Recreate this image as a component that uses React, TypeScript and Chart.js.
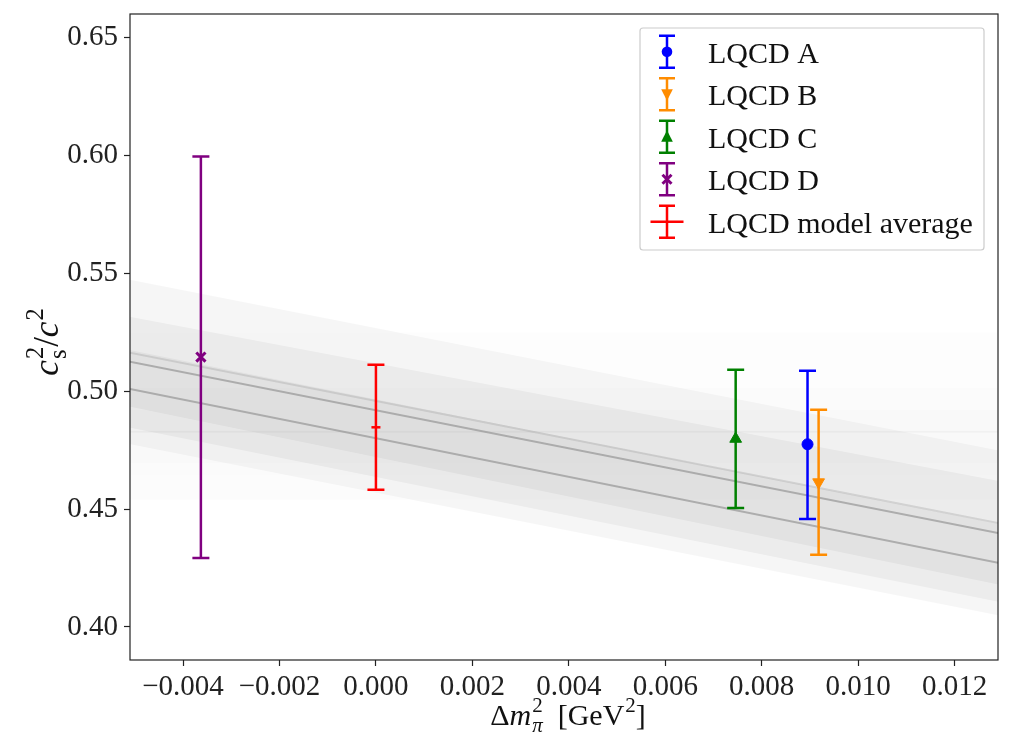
import React, { useEffect, useRef } from "react";
import { Chart, registerables } from "chart.js";

Chart.register(...registerables);

const FONT = '"Liberation Serif", "Times New Roman", serif';

// ---- axes ----
const xMin = -0.0051;
const xMax = 0.0129;
const yMin = 0.386;
const yMax = 0.66;
const xTicks = [-0.004, -0.002, 0.0, 0.002, 0.004, 0.006, 0.008, 0.01, 0.012];
const yTicks = [0.4, 0.45, 0.5, 0.55, 0.6, 0.65];

// ---- measurements ----
const seriesNames = ["LQCD A", "LQCD B", "LQCD C", "LQCD D", "LQCD model average"];
const seriesX = [0.00895, 0.00918, 0.00746, -0.00363, 0.0];
const seriesY = [0.4775, 0.4614, 0.4798, 0.5145, 0.4847];
const seriesLow = [0.4458, 0.4306, 0.4505, 0.4293, 0.4582];
const seriesHigh = [0.5087, 0.4921, 0.5091, 0.5996, 0.5112];
const seriesColors = ["#0000ff", "#ff8c00", "#008000", "#800080", "#ff0000"];
const seriesMarkers = ["circle", "triangleDown", "triangle", "crossRot", "line"];

// ---- linear fits (values at the two ends of fitX) ----
const fitX = [-0.0051, 0.0129];
const fitLineA = [0.5125, 0.4399];
const fitLineB = [0.5163, 0.4441];
const fitLineC = [0.501, 0.4272];
const bandWideUpper = [0.5473, 0.475];
const bandWideLower = [0.4775, 0.405];
const bandMidUpper = [0.5316, 0.462];
const bandMidLower = [0.4934, 0.418];
const bandLowUpper = [0.5175, 0.4437];
const bandLowLower = [0.4845, 0.4107];

// ---- constant fits ----
const constBandOuter = [0.5015, 0.454];
const constBandInner = [0.492, 0.4696];
const constBandFaint = [0.525, 0.4645];
const constLine = 0.4828;

const pts = (ys: number[]) => fitX.map((x, i) => ({ x, y: ys[i] }));
const flat = (v: number) => fitX.map((x) => ({ x, y: v }));

type Seg = { t?: string; it?: boolean; sup?: string; sub?: string; subIt?: boolean };

function segWidth(ctx: CanvasRenderingContext2D, s: Seg, size: number) {
  if (s.t !== undefined) {
    ctx.font = `${s.it ? "italic " : ""}${size}px ${FONT}`;
    return ctx.measureText(s.t).width;
  }
  const small = size * 0.7;
  let w1 = 0, w2 = 0;
  if (s.sup) { ctx.font = `${small}px ${FONT}`; w1 = ctx.measureText(s.sup).width; }
  if (s.sub) { ctx.font = `${s.subIt ? "italic " : ""}${small}px ${FONT}`; w2 = ctx.measureText(s.sub).width; }
  return Math.max(w1, w2) + 1;
}

function drawRich(ctx: CanvasRenderingContext2D, segs: Seg[], cx: number, base: number, size: number) {
  let total = 0;
  for (const s of segs) total += segWidth(ctx, s, size);
  let x = cx - total / 2;
  ctx.textAlign = "left";
  ctx.textBaseline = "alphabetic";
  for (const s of segs) {
    const w = segWidth(ctx, s, size);
    if (s.t !== undefined) {
      ctx.font = `${s.it ? "italic " : ""}${size}px ${FONT}`;
      ctx.fillText(s.t, x, base);
    } else {
      const small = size * 0.7;
      if (s.sup) { ctx.font = `${small}px ${FONT}`; ctx.fillText(s.sup, x + 1, base - size * 0.42); }
      if (s.sub) { ctx.font = `${s.subIt ? "italic " : ""}${small}px ${FONT}`; ctx.fillText(s.sub, x + 1, base + size * 0.24); }
    }
    x += w;
  }
}

function drawMarker(ctx: CanvasRenderingContext2D, kind: string, x: number, y: number, color: string) {
  ctx.save();
  ctx.fillStyle = color;
  ctx.strokeStyle = color;
  ctx.beginPath();
  if (kind === "circle") {
    ctx.arc(x, y, 5.3, 0, Math.PI * 2);
    ctx.fill();
  } else if (kind === "triangleDown") {
    ctx.moveTo(x - 5.8, y - 5);
    ctx.lineTo(x + 5.8, y - 5);
    ctx.lineTo(x, y + 6.5);
    ctx.closePath();
    ctx.fill();
  } else if (kind === "triangle") {
    ctx.moveTo(x - 5.8, y + 5);
    ctx.lineTo(x + 5.8, y + 5);
    ctx.lineTo(x, y - 6.5);
    ctx.closePath();
    ctx.fill();
  } else if (kind === "crossRot") {
    ctx.lineWidth = 3;
    ctx.moveTo(x - 4.5, y - 4.5);
    ctx.lineTo(x + 4.5, y + 4.5);
    ctx.moveTo(x - 4.5, y + 4.5);
    ctx.lineTo(x + 4.5, y - 4.5);
    ctx.stroke();
  } else if (kind === "line") {
    ctx.lineWidth = 2.5;
    ctx.moveTo(x - 16.5, y);
    ctx.lineTo(x + 16.5, y);
    ctx.stroke();
  }
  ctx.restore();
}

function drawErrorBar(ctx: CanvasRenderingContext2D, px: number, pl: number, ph: number, color: string, cap: number) {
  ctx.save();
  ctx.strokeStyle = color;
  ctx.lineWidth = 2.5;
  ctx.beginPath();
  ctx.moveTo(px, pl);
  ctx.lineTo(px, ph);
  ctx.moveTo(px - cap, pl);
  ctx.lineTo(px + cap, pl);
  ctx.moveTo(px - cap, ph);
  ctx.lineTo(px + cap, ph);
  ctx.stroke();
  ctx.restore();
}

const errorBarPlugin = {
  id: "errorBars",
  beforeDatasetDraw(chart: any, args: any) {
    const i = args.index;
    if (i >= seriesNames.length) return;
    const { ctx, scales } = chart;
    const px = scales.x.getPixelForValue(seriesX[i]);
    const pl = scales.y.getPixelForValue(seriesLow[i]);
    const ph = scales.y.getPixelForValue(seriesHigh[i]);
    drawErrorBar(ctx, px, pl, ph, seriesColors[i], 8.5);
  },
};

const decorPlugin = {
  id: "decor",
  afterDatasetsDraw(chart: any) {
    const { ctx, chartArea: a } = chart;
    ctx.save();
    ctx.strokeStyle = "#222";
    ctx.lineWidth = 1.2;
    ctx.strokeRect(a.left, a.top, a.right - a.left, a.bottom - a.top);
    ctx.restore();
  },
  afterDraw(chart: any) {
    const { ctx, chartArea: a } = chart;
    ctx.save();
    ctx.fillStyle = "#111";
    // x title
    drawRich(
      ctx,
      [{ t: "Δ" }, { t: "m", it: true }, { sup: "2", sub: "π", subIt: true }, { t: "  [GeV" }, { sup: "2" }, { t: "]" }],
      (a.left + a.right) / 2 + 4,
      725,
      30
    );
    // y title
    ctx.save();
    ctx.translate(58, 342);
    ctx.rotate(-Math.PI / 2);
    drawRich(
      ctx,
      [{ t: "c", it: true }, { sup: "2", sub: "s" }, { t: "/" }, { t: "c", it: true }, { sup: "2" }],
      0,
      0,
      35
    );
    ctx.restore();

    // legend
    const lx = 640, ly = 28, lw = 344, lh = 222;
    ctx.fillStyle = "rgba(255,255,255,0.85)";
    ctx.strokeStyle = "#cccccc";
    ctx.lineWidth = 1.2;
    ctx.beginPath();
    ctx.roundRect(lx, ly, lw, lh, 3);
    ctx.fill();
    ctx.stroke();
    for (let i = 0; i < seriesNames.length; i++) {
      const cy = 51.7 + i * 42.5;
      const mx = 667;
      drawErrorBar(ctx, mx, cy + 16, cy - 16, seriesColors[i], 8);
      drawMarker(ctx, seriesMarkers[i], mx, cy, seriesColors[i]);
      ctx.fillStyle = "#111";
      ctx.font = `30px ${FONT}`;
      ctx.textAlign = "left";
      ctx.textBaseline = "alphabetic";
      ctx.fillText(seriesNames[i], 708, cy + 11);
    }
    ctx.restore();
  },
};

const fmtX = (v: number) => {
  const r = Math.round(v * 1e6) / 1e6;
  if (r === 0) return "0.000";
  return (r < 0 ? "\u2212" : "") + Math.abs(r).toFixed(3);
};

export default function App() {
  const ref = useRef<HTMLCanvasElement>(null);

  useEffect(() => {
    document.body.style.margin = "0";
    const canvas = ref.current;
    if (!canvas) return;

    const markerDatasets = seriesNames.map((name, i) => {
      const m = seriesMarkers[i];
      return {
        label: name,
        data: [{ x: seriesX[i], y: seriesY[i] }],
        showLine: false,
        pointStyle: m === "triangleDown" ? "triangle" : m,
        pointRotation: m === "triangleDown" ? 180 : 0,
        pointRadius: m === "circle" ? 5.5 : m === "line" ? 4.5 : m === "crossRot" ? 6.5 : 6.8,
        pointBackgroundColor: seriesColors[i],
        pointBorderColor: seriesColors[i],
        pointBorderWidth: m === "crossRot" ? 3 : m === "line" ? 2.5 : 1,
        fill: false,
      };
    });

    const band = (upper: number[], lower: number[], color: string) => [
      { data: pts(upper), borderWidth: 0, pointRadius: 0, fill: "+1", backgroundColor: color, borderColor: "transparent" },
      { data: pts(lower), borderWidth: 0, pointRadius: 0, fill: false, borderColor: "transparent" },
    ];
    const hband = (upper: number, lower: number, color: string) => [
      { data: flat(upper), borderWidth: 0, pointRadius: 0, fill: "+1", backgroundColor: color, borderColor: "transparent" },
      { data: flat(lower), borderWidth: 0, pointRadius: 0, fill: false, borderColor: "transparent" },
    ];
    const line = (ys: number[], color: string, w: number) => ({
      data: pts(ys), borderWidth: w, pointRadius: 0, fill: false, borderColor: color,
    });

    const datasets: any[] = [
      ...markerDatasets,
      line(fitLineA, "rgba(150,150,150,0.7)", 2),
      line(fitLineC, "rgba(150,150,150,0.7)", 2),
      line(fitLineB, "rgba(170,170,170,0.4)", 2),
      { data: flat(constLine), borderWidth: 2, pointRadius: 0, fill: false, borderColor: "rgba(0,0,0,0.035)" },
      ...band(bandLowUpper, bandLowLower, "rgba(0,0,0,0.045)"),
      ...band(bandMidUpper, bandMidLower, "rgba(0,0,0,0.045)"),
      ...band(bandWideUpper, bandWideLower, "rgba(0,0,0,0.035)"),
      ...hband(constBandInner[0], constBandInner[1], "rgba(0,0,0,0.01)"),
      ...hband(constBandOuter[0], constBandOuter[1], "rgba(0,0,0,0.01)"),
      ...hband(constBandFaint[0], constBandFaint[1], "rgba(0,0,0,0.007)"),
    ];

    const tickFont = { family: FONT, size: 29 };

    const chart = new Chart(canvas, {
      type: "line",
      data: { datasets },
      options: {
        responsive: false,
        animation: false,
        events: [],
        layout: { padding: { left: 0, top: 14, right: 30, bottom: 0 } },
        plugins: { legend: { display: false }, tooltip: { enabled: false } },
        scales: {
          x: {
            type: "linear",
            min: xMin,
            max: xMax,
            afterBuildTicks: (s: any) => { s.ticks = xTicks.map((v) => ({ value: v })); },
            afterFit: (s: any) => { s.height = 78; s.paddingLeft = 0; s.paddingRight = 0; },
            ticks: { callback: (v: any) => fmtX(Number(v)), font: tickFont, color: "#222", padding: 4, maxRotation: 0, autoSkip: false },
            grid: { drawOnChartArea: false, drawTicks: true, tickLength: 6, color: "#222", tickWidth: 1.2 },
            border: { display: false },
          },
          y: {
            type: "linear",
            min: yMin,
            max: yMax,
            afterBuildTicks: (s: any) => { s.ticks = yTicks.map((v) => ({ value: v })); },
            afterFit: (s: any) => { s.width = 130; s.paddingTop = 0; s.paddingBottom = 0; },
            ticks: { callback: (v: any) => Number(v).toFixed(2), font: tickFont, color: "#222", padding: 6, autoSkip: false },
            grid: { drawOnChartArea: false, drawTicks: true, tickLength: 6, color: "#222", tickWidth: 1.2 },
            border: { display: false },
          },
        },
      },
      plugins: [errorBarPlugin, decorPlugin],
    } as any);

    return () => chart.destroy();
  }, []);

  return (
    <div style={{ width: 1028, height: 738, background: "#fff" }}>
      <canvas ref={ref} width={1028} height={738} style={{ display: "block" }} />
    </div>
  );
}
